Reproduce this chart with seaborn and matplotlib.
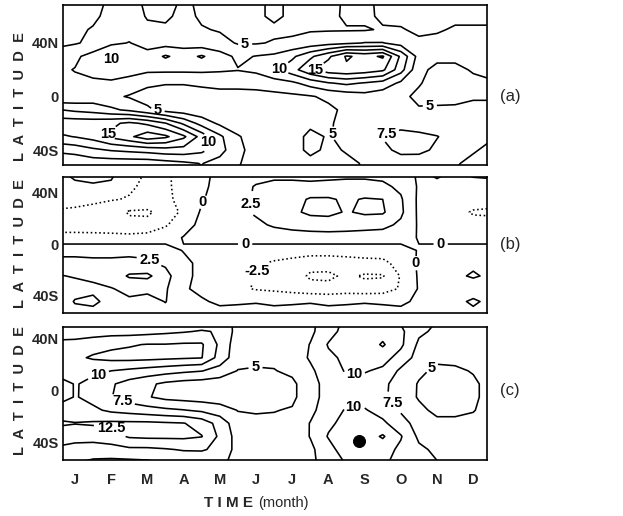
import numpy as np
import matplotlib
matplotlib.use("Agg")
import matplotlib.pyplot as plt
import matplotlib.transforms as mtransforms
import seaborn as sns

# ---------------- data ----------------
month_grid = [0.0, 0.5, 1.0, 1.5, 2.0, 2.5, 3.0, 3.5, 4.0, 4.5, 5.0, 5.5,
              6.0, 6.5, 7.0, 7.5, 8.0, 8.5, 9.0, 9.5, 10.0, 10.5, 11.0, 11.5, 12.0]
month_ticks = [0.5, 1.5, 2.5, 3.5, 4.5, 5.5, 6.5, 7.5, 8.5, 9.5, 10.5, 11.5]
month_names = ["J", "F", "M", "A", "M", "J", "J", "A", "S", "O", "N", "D"]
lat_ticks = [40, 0, -40]
lat_tick_names = ["40N", "0", "40S"]

# panel (a)
a_lats = [70, 60, 50, 40, 30, 20, 10, 0, -10, -20, -30, -40, -50, -60]
a_values = [
    [4.0, 4.0, 4.2, 5.5, 6.0, 4.5, 4.0, 5.5, 4.5, 4.0, 4.0, 4.5, 5.5, 4.5, 4.0, 4.0, 5.5, 5.5, 4.5, 4.2, 4.0, 4.2, 4.5, 4.5, 4.5],
    [4.0, 4.2, 4.5, 5.8, 6.2, 4.8, 4.5, 5.8, 4.6, 4.2, 4.0, 4.5, 5.5, 4.5, 4.2, 4.2, 5.5, 5.5, 4.6, 4.3, 4.0, 4.3, 4.6, 4.6, 4.6],
    [4.5, 4.5, 5.2, 6.0, 6.5, 5.5, 5.5, 6.0, 5.2, 4.8, 4.5, 4.5, 4.5, 4.5, 4.8, 4.8, 4.8, 4.8, 5.2, 5.2, 4.5, 4.8, 5.2, 5.2, 5.2],
    [4.5, 4.8, 5.5, 7.0, 7.6, 6.5, 6.5, 6.5, 6.0, 5.8, 4.8, 4.8, 5.2, 5.5, 6.0, 6.6, 7.0, 7.6, 7.6, 6.5, 5.5, 5.5, 5.5, 5.5, 5.5],
    [6.0, 7.0, 8.5, 10.5, 9.0, 8.5, 10.3, 9.0, 10.3, 8.5, 7.0, 7.6, 8.0, 9.5, 12.0, 14.5, 17.8, 16.8, 17.8, 12.0, 6.5, 5.5, 5.5, 6.0, 6.0],
    [7.0, 7.6, 8.0, 8.5, 8.5, 8.0, 8.0, 8.0, 8.0, 7.8, 7.6, 8.0, 9.5, 11.5, 14.5, 16.5, 17.0, 16.5, 15.5, 11.0, 5.5, 4.5, 4.5, 5.2, 5.5],
    [6.5, 7.0, 7.2, 7.2, 6.5, 5.5, 5.2, 5.2, 5.5, 5.8, 5.8, 6.0, 6.5, 7.0, 8.5, 9.8, 10.5, 9.8, 9.0, 7.0, 5.2, 4.0, 4.0, 4.5, 4.8],
    [5.2, 5.5, 6.0, 5.5, 4.8, 4.0, 3.5, 3.5, 3.8, 4.0, 4.0, 4.0, 4.2, 4.5, 4.8, 5.5, 6.0, 6.6, 6.0, 5.5, 4.5, 4.0, 4.2, 4.8, 4.8],
    [10.2, 9.5, 9.0, 8.0, 7.0, 5.5, 4.0, 3.5, 3.2, 3.0, 3.0, 3.0, 3.2, 3.5, 4.0, 4.5, 5.5, 6.6, 5.2, 5.5, 5.2, 5.5, 5.5, 5.5, 5.5],
    [14.0, 14.0, 14.0, 14.5, 15.5, 14.5, 12.6, 9.5, 6.5, 4.5, 3.8, 3.5, 3.5, 3.8, 4.5, 4.8, 5.5, 6.5, 7.0, 7.0, 6.5, 6.0, 6.0, 5.5, 5.5],
    [12.0, 12.6, 13.5, 15.5, 17.0, 19.0, 18.0, 15.5, 11.5, 8.0, 5.2, 4.0, 3.8, 4.0, 5.6, 4.8, 5.8, 6.5, 7.6, 8.0, 8.0, 7.6, 6.5, 5.5, 5.2],
    [8.0, 8.5, 9.5, 10.2, 10.6, 11.0, 11.5, 11.5, 10.6, 8.5, 5.5, 4.2, 4.0, 4.0, 5.6, 4.5, 5.2, 5.5, 7.0, 8.0, 8.2, 7.0, 6.0, 5.2, 4.5],
    [5.5, 5.5, 6.0, 6.0, 6.0, 6.0, 6.5, 7.0, 7.6, 6.5, 5.2, 4.0, 4.0, 4.0, 4.2, 4.5, 4.5, 5.2, 6.0, 6.5, 6.0, 5.5, 5.2, 4.5, 4.5],
    [5.2, 5.2, 5.5, 5.5, 5.5, 5.5, 6.0, 6.5, 7.0, 6.0, 4.8, 4.0, 4.0, 4.0, 4.0, 4.5, 4.5, 5.2, 5.5, 6.0, 5.5, 5.2, 4.8, 4.5, 4.5],
]
a_levels = [5, 7.5, 10, 12.5, 15, 17.5]
a_label_levels = [10, 5, 10, 15, 5, 15, 10, 5, 7.5, 5]
a_label_months = [1.5, 5.2, 6.1, 7.1, 2.8, 1.4, 4.2, 7.7, 9.1, 10.3]
a_label_lats = [28, 40, 22, 19, -7, -28, -34, -28, -28, -6]

# panel (b)
b_lats = [55, 45, 35, 25, 15, 5, -5, -15, -25, -35, -45, -55]
b_values = [
    [-0.5, 0.5, 0.8, 0.5, -1.8, -2.7, -2.9, -1.6, -0.5, 0.5, 1.5, 2.0, 2.2, 2.0, 1.8, 1.8, 2.0, 2.0, 1.8, 1.0, -0.3, 0.3, -0.3, 0.3, 0.3],
    [-1.0, -0.5, -0.3, -0.5, -2.3, -2.8, -3.0, -1.5, -0.5, 0.8, 2.0, 2.6, 2.8, 3.0, 3.0, 3.2, 3.2, 3.2, 3.0, 2.0, -0.3, -0.5, -0.5, -0.8, -0.5],
    [-1.8, -2.0, -2.2, -2.4, -2.6, -2.9, -3.0, -1.8, -0.2, 1.0, 2.0, 2.7, 3.3, 4.0, 5.3, 5.3, 4.6, 5.2, 5.0, 2.8, -0.5, -1.0, -1.0, -1.5, -1.8],
    [-2.7, -2.8, -3.0, -3.5, -5.3, -5.5, -3.8, -2.0, 0.3, 1.3, 2.0, 2.8, 3.5, 4.5, 5.5, 5.6, 4.8, 5.4, 5.3, 3.0, -0.5, -1.2, -1.8, -2.7, -2.8],
    [-3.5, -3.5, -3.6, -3.8, -4.2, -4.0, -2.8, -0.8, 0.5, 1.0, 1.5, 2.0, 2.8, 3.3, 3.6, 3.8, 3.6, 3.4, 3.2, 2.0, -0.3, -0.8, -1.2, -1.8, -1.8],
    [-1.8, -1.8, -1.8, -1.8, -1.8, -1.6, -0.8, 0.1, 0.5, 0.7, 0.9, 1.0, 1.2, 1.3, 1.4, 1.4, 1.4, 1.3, 1.2, 0.6, -0.1, -0.3, -0.4, -0.5, -0.5],
    [1.8, 1.8, 1.8, 1.8, 1.8, 1.6, 0.8, -0.1, -0.5, -0.7, -0.9, -1.0, -1.2, -1.3, -1.4, -1.4, -1.4, -1.3, -1.2, -0.6, 0.1, 0.3, 0.4, 0.5, 0.5],
    [3.2, 3.2, 3.0, 3.0, 3.2, 3.0, 2.0, 0.5, -0.5, -1.0, -1.5, -2.2, -2.8, -3.3, -4.0, -4.0, -3.6, -3.3, -3.2, -1.5, 0.3, 0.8, 1.5, 2.0, 2.0],
    [2.4, 2.6, 2.8, 3.5, 5.3, 5.5, 3.5, 0.3, -0.3, -1.0, -1.8, -2.6, -3.0, -3.6, -5.4, -5.5, -4.5, -5.3, -5.2, -2.3, 0.3, 1.5, 2.0, 2.8, 2.0],
    [1.8, 2.0, 2.2, 2.4, 3.0, 3.2, 2.8, 0.2, -0.4, -1.2, -2.0, -2.7, -3.0, -3.5, -4.0, -4.2, -3.8, -4.0, -3.8, -2.2, 0.2, 1.0, 1.2, 1.0, 1.0],
    [1.5, 2.6, 2.8, 2.0, 2.2, 1.5, 2.6, 0.5, 0.2, -0.3, -0.2, -0.1, -0.3, -0.2, -0.1, -0.3, -0.2, -0.1, -0.2, -0.3, 0.3, 0.5, 0.5, -0.3, 0.5],
    [1.5, 2.0, 2.0, 1.5, 1.5, 1.5, 1.5, 0.8, 0.6, 0.6, 0.6, 0.6, 0.6, 0.6, 0.6, 0.6, 0.6, 0.6, 0.6, 0.5, 0.5, 0.5, 0.5, 0.5, 0.5],
]
b_levels = [-5, -2.5, 0, 2.5, 5]
b_label_levels = [0, 2.5, 0, 0, 2.5, -2.5, 0]
b_label_months = [4.2, 5.7, 5.2, 10.6, 2.6, 5.6, 9.8]
b_label_lats = [30, 30, 0, 0, -10, -23, -15]

# panel (c): one latitude profile (55N ... 55S) per entry of month_grid
c_lats = [55, 45, 35, 25, 15, 5, -5, -15, -25, -35, -45, -55]
c_profiles = [
    [7.0, 8.5, 10.8, 12.3, 11.5, 8.0, 8.0, 11.5, 12.8, 11.5, 9.5, 8.0],
    [7.2, 8.5, 11.0, 12.0, 11.0, 10.2, 10.2, 11.0, 12.6, 11.0, 9.0, 7.6],
    [7.0, 8.8, 11.5, 12.8, 10.5, 9.3, 9.2, 10.5, 12.8, 11.0, 8.8, 7.0],
    [6.8, 9.0, 12.0, 13.2, 10.0, 7.8, 7.6, 9.5, 13.0, 11.5, 9.0, 6.8],
    [6.5, 9.0, 12.3, 13.3, 9.5, 6.5, 6.2, 9.0, 13.0, 12.8, 9.5, 6.8],
    [6.5, 9.2, 12.6, 13.2, 9.0, 5.5, 5.2, 8.5, 13.0, 13.0, 9.5, 7.0],
    [7.0, 9.5, 12.6, 13.0, 8.5, 4.5, 4.3, 8.0, 12.8, 13.0, 9.8, 7.6],
    [7.6, 9.8, 12.8, 12.8, 8.0, 4.0, 4.0, 7.6, 12.6, 13.0, 10.2, 8.0],
    [8.0, 10.2, 12.8, 12.6, 7.6, 3.8, 3.8, 7.0, 11.5, 12.6, 10.2, 8.5],
    [8.5, 9.8, 9.5, 9.0, 6.5, 3.6, 3.6, 6.2, 9.0, 9.5, 9.5, 8.5],
    [7.0, 6.5, 6.0, 6.0, 4.9, 3.5, 3.5, 4.9, 6.0, 6.5, 6.5, 6.0],
    [6.0, 5.8, 5.8, 5.5, 4.8, 3.5, 3.5, 4.8, 5.5, 5.5, 5.5, 5.5],
    [5.8, 5.5, 5.5, 5.5, 4.9, 3.8, 3.8, 4.9, 5.5, 5.5, 5.5, 5.5],
    [6.0, 6.0, 6.0, 6.0, 5.5, 4.5, 4.5, 5.2, 5.8, 6.0, 6.0, 6.0],
    [7.0, 7.0, 7.6, 7.8, 7.0, 6.5, 6.5, 6.8, 7.6, 7.6, 7.0, 7.0],
    [8.5, 9.0, 10.2, 9.5, 9.0, 8.5, 8.5, 9.0, 9.5, 10.2, 9.0, 8.5],
    [10.5, 11.0, 11.0, 10.5, 10.2, 9.5, 9.5, 10.2, 10.8, 11.0, 11.5, 10.2],
    [11.0, 11.2, 11.0, 11.0, 10.2, 9.0, 9.0, 10.2, 11.0, 11.2, 11.8, 11.0],
    [10.8, 11.5, 12.8, 11.0, 9.5, 8.0, 8.0, 9.0, 10.5, 12.8, 11.0, 10.5],
    [9.5, 10.5, 10.5, 9.0, 7.0, 6.5, 6.2, 7.2, 8.5, 10.2, 9.5, 9.0],
    [8.0, 8.0, 7.0, 6.5, 5.5, 4.8, 4.8, 5.5, 6.5, 7.0, 8.0, 8.0],
    [7.6, 7.0, 6.5, 5.5, 4.5, 4.2, 4.2, 4.5, 5.5, 6.5, 7.0, 7.6],
    [7.0, 6.8, 6.0, 5.8, 4.5, 4.0, 4.0, 4.5, 5.5, 6.5, 7.0, 7.0],
    [7.0, 6.8, 6.5, 6.0, 5.2, 4.5, 4.5, 4.8, 6.0, 6.5, 7.0, 7.0],
    [7.0, 7.0, 7.0, 7.0, 6.5, 6.0, 6.0, 6.5, 7.0, 7.0, 7.0, 7.0],
]
c_levels = [5, 7.5, 10, 12.5, 15]
c_label_levels = [10, 7.5, 12.5, 5, 10, 10, 7.5, 5]
c_label_months = [1.1, 1.8, 1.5, 5.5, 8.2, 8.2, 9.3, 10.5]
c_label_lats = [16, -8, -27, 15, 14, -12, -9, 12]

dot_month = [8.35]
dot_lat = [-38.4]

# ---------------- styling ----------------
sns.set_theme(style="white")
plt.rcParams["font.family"] = ["Liberation Sans", "DejaVu Sans"]
plt.rcParams["font.weight"] = "bold"

W, H = 623, 516
fig = plt.figure(figsize=(W / 100, H / 100), dpi=100)


def make_axes(top, bottom):
    return fig.add_axes([63 / W, 1 - bottom / H, 424 / W, (bottom - top) / H])


ax_a = make_axes(5, 165)
ax_b = make_axes(177, 313)
ax_c = make_axes(327, 460)


def fmt(v):
    return f"{v:g}"


def panel(ax, lats, values, levels, styles, ylim, lab_lev, lab_m, lab_lat, tag):
    ax.set_xlim(0.17, 11.88)
    ax.set_ylim(*ylim)
    Z = np.array(values, dtype=float)
    Xg, Yg = np.meshgrid(month_grid, lats)
    for lev, sty in zip(levels, styles):
        cs = ax.contour(Xg, Yg, Z, levels=[lev], colors="black",
                        linewidths=1.15, linestyles=sty)
        pts = [(m, la) for L, m, la in zip(lab_lev, lab_m, lab_lat) if L == lev]
        if pts:
            txts = cs.clabel(manual=pts, inline=True, inline_spacing=3,
                             fmt=fmt, fontsize=10.5)
            for t in txts:
                t.set_fontweight("bold")
                t.set_rotation(0)
    ax.set_yticks(lat_ticks)
    ax.set_yticklabels(lat_tick_names, fontsize=10.5, fontweight="bold")
    ax.tick_params(axis="both", length=0, pad=3)
    for sp in ax.spines.values():
        sp.set_color("black")
        sp.set_linewidth(1.2)
        sp.set_visible(True)
    ax.text(1.054, 0, tag,
            transform=mtransforms.blended_transform_factory(ax.transAxes, ax.transData),
            ha="center", va="center", fontsize=12, fontweight="normal")
    tr = mtransforms.blended_transform_factory(fig.transFigure, ax.transData)
    ax.text(20 / W, 0, "L  A  T  I  T  U  D  E", transform=tr, rotation=90,
            ha="center", va="center", fontsize=10.5, fontweight="bold")
    ax.set_xlabel("")
    ax.set_ylabel("")


panel(ax_a, a_lats, a_values, a_levels, ["solid"] * 6, (-51.2, 68.4),
      a_label_levels, a_label_months, a_label_lats, "(a)")
panel(ax_b, b_lats, b_values, b_levels, ["dotted", "dotted", "solid", "solid", "solid"],
      (-54.0, 52.5), b_label_levels, b_label_months, b_label_lats, "(b)")
panel(ax_c, c_lats, np.array(c_profiles).T, c_levels, ["solid"] * 5, (-53.0, 48.4),
      c_label_levels, c_label_months, c_label_lats, "(c)")

sns.scatterplot(x=dot_month, y=dot_lat, ax=ax_c, s=75, color="black",
                edgecolor="black", legend=False, zorder=5)
ax_c.set_xlim(0.17, 11.88)
ax_c.set_ylim(-53.0, 48.4)
ax_c.set_xlabel("")
ax_c.set_ylabel("")

for ax in (ax_a, ax_b):
    ax.set_xticks([])
ax_c.set_xticks(month_ticks)
ax_c.set_xticklabels(month_names, fontsize=10.5, fontweight="bold")
ax_c.tick_params(axis="x", pad=9)

fig.text(253 / W, 1 - 503 / H, "T I M E", ha="right", va="center",
         fontsize=11, fontweight="bold")
fig.text(258 / W, 1 - 503 / H, "(month)", ha="left", va="center",
         fontsize=10.5, fontweight="normal")

fig.savefig("out.png", dpi=100)
